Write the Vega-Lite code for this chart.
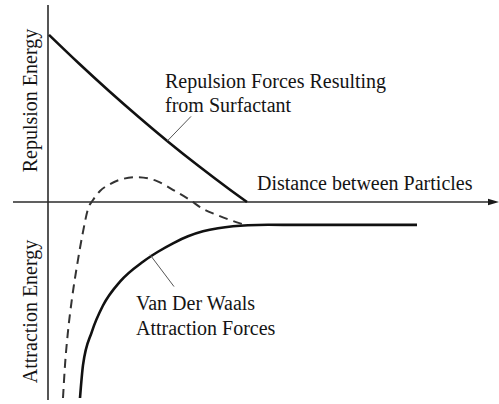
{
  "$schema": "https://vega.github.io/schema/vega-lite/v6.json",
  "width": 499,
  "height": 404,
  "autosize": {"type": "fit", "contains": "padding"},
  "padding": 0,
  "background": "white",
  "config": {"view": {"stroke": null}},
  "datasets": {
    "axes": [
      {"name": "energy", "d": 0, "e": 198, "d2": 0, "e2": -199},
      {"name": "distance", "d": -35, "e": 0, "d2": 442, "e2": 0}
    ],
    "arrow": [{"d": 445.5, "e": 0}],
    "curves": [
      {"series": "repulsion", "d": 1, "e": 168},
      {"series": "repulsion", "d": 31, "e": 139.2},
      {"series": "repulsion", "d": 61, "e": 111.6},
      {"series": "repulsion", "d": 91, "e": 85.2},
      {"series": "repulsion", "d": 121, "e": 59.9},
      {"series": "repulsion", "d": 151, "e": 35.9},
      {"series": "repulsion", "d": 181, "e": 13.1},
      {"series": "repulsion", "d": 199, "e": 0},

      {"series": "vanderwaals", "d": 32, "e": -197},
      {"series": "vanderwaals", "d": 35, "e": -164},
      {"series": "vanderwaals", "d": 44, "e": -130},
      {"series": "vanderwaals", "d": 55, "e": -104},
      {"series": "vanderwaals", "d": 72, "e": -80},
      {"series": "vanderwaals", "d": 95, "e": -60},
      {"series": "vanderwaals", "d": 110, "e": -50},
      {"series": "vanderwaals", "d": 125, "e": -41.5},
      {"series": "vanderwaals", "d": 140, "e": -34.5},
      {"series": "vanderwaals", "d": 155, "e": -29.5},
      {"series": "vanderwaals", "d": 170, "e": -26.3},
      {"series": "vanderwaals", "d": 185, "e": -24.3},
      {"series": "vanderwaals", "d": 200, "e": -23.3},
      {"series": "vanderwaals", "d": 220, "e": -22.9},
      {"series": "vanderwaals", "d": 250, "e": -23},
      {"series": "vanderwaals", "d": 369, "e": -23},

      {"series": "total", "d": 15, "e": -197},
      {"series": "total", "d": 17, "e": -164},
      {"series": "total", "d": 20, "e": -130},
      {"series": "total", "d": 24, "e": -97},
      {"series": "total", "d": 29, "e": -64},
      {"series": "total", "d": 35, "e": -30},
      {"series": "total", "d": 40, "e": -7},
      {"series": "total", "d": 45, "e": 2},
      {"series": "total", "d": 52, "e": 11},
      {"series": "total", "d": 62, "e": 18},
      {"series": "total", "d": 74, "e": 23},
      {"series": "total", "d": 89, "e": 25},
      {"series": "total", "d": 109, "e": 21},
      {"series": "total", "d": 127, "e": 11},
      {"series": "total", "d": 142, "e": 2},
      {"series": "total", "d": 155, "e": -7},
      {"series": "total", "d": 169, "e": -13},
      {"series": "total", "d": 179, "e": -17},
      {"series": "total", "d": 194, "e": -22}
    ],
    "leaders": [
      {"curve": "repulsion", "d": 119, "e": 61, "d2": 143, "e2": 86},
      {"curve": "vanderwaals", "d": 102, "e": -53, "d2": 126, "e2": -85}
    ],
    "notes": [
      {"d": 117, "e": 115, "label": "Repulsion Forces Resulting"},
      {"d": 117, "e": 90, "label": "from Surfactant"},
      {"d": 209, "e": 12, "label": "Distance between Particles"},
      {"d": 88, "e": -109, "label": "Van Der Waals"},
      {"d": 88, "e": -134, "label": "Attraction Forces"}
    ],
    "titles": [
      {"d": -11, "e": 102, "label": "Repulsion Energy"},
      {"d": -11, "e": -110, "label": "Attraction Energy"}
    ]
  },
  "layer": [
    {
      "data": {"name": "axes"},
      "mark": {"type": "rule", "color": "#2b2b2b", "strokeWidth": 1.6},
      "encoding": {
        "x": {"field": "d", "type": "quantitative", "scale": {"domain": [-48, 451], "nice": false, "zero": false}, "axis": null},
        "x2": {"field": "d2"},
        "y": {"field": "e", "type": "quantitative", "scale": {"domain": [-201, 203], "nice": false, "zero": false}, "axis": null},
        "y2": {"field": "e2"}
      }
    },
    {
      "data": {"name": "arrow"},
      "mark": {"type": "point", "shape": "M -1 -0.6 L 1 0 L -1 0.6 Z", "size": 121, "filled": true, "color": "#1a1a1a", "opacity": 1},
      "encoding": {
        "x": {"field": "d", "type": "quantitative", "scale": {"domain": [-48, 451], "nice": false, "zero": false}, "axis": null},
        "y": {"field": "e", "type": "quantitative", "scale": {"domain": [-201, 203], "nice": false, "zero": false}, "axis": null}
      }
    },
    {
      "data": {"name": "curves"},
      "transform": [{"filter": "datum.series === 'total'"}],
      "mark": {"type": "line", "interpolate": "monotone", "color": "#333333", "strokeWidth": 2, "strokeDash": [9, 6]},
      "encoding": {
        "x": {"field": "d", "type": "quantitative", "scale": {"domain": [-48, 451], "nice": false, "zero": false}, "axis": null},
        "y": {"field": "e", "type": "quantitative", "scale": {"domain": [-201, 203], "nice": false, "zero": false}, "axis": null}
      }
    },
    {
      "data": {"name": "curves"},
      "transform": [{"filter": "datum.series !== 'total'"}],
      "mark": {"type": "line", "interpolate": "monotone", "color": "#111111", "strokeWidth": 2.6},
      "encoding": {
        "x": {"field": "d", "type": "quantitative", "scale": {"domain": [-48, 451], "nice": false, "zero": false}, "axis": null},
        "y": {"field": "e", "type": "quantitative", "scale": {"domain": [-201, 203], "nice": false, "zero": false}, "axis": null},
        "detail": {"field": "series"}
      }
    },
    {
      "data": {"name": "leaders"},
      "mark": {"type": "rule", "color": "#555555", "strokeWidth": 1},
      "encoding": {
        "x": {"field": "d", "type": "quantitative", "scale": {"domain": [-48, 451], "nice": false, "zero": false}, "axis": null},
        "x2": {"field": "d2"},
        "y": {"field": "e", "type": "quantitative", "scale": {"domain": [-201, 203], "nice": false, "zero": false}, "axis": null},
        "y2": {"field": "e2"}
      }
    },
    {
      "data": {"name": "notes"},
      "mark": {"type": "text", "font": "Liberation Serif", "fontSize": 20, "align": "left", "baseline": "alphabetic", "color": "#141414"},
      "encoding": {
        "x": {"field": "d", "type": "quantitative", "scale": {"domain": [-48, 451], "nice": false, "zero": false}, "axis": null},
        "y": {"field": "e", "type": "quantitative", "scale": {"domain": [-201, 203], "nice": false, "zero": false}, "axis": null},
        "text": {"field": "label"}
      }
    },
    {
      "data": {"name": "titles"},
      "mark": {"type": "text", "font": "Liberation Serif", "fontSize": 20, "align": "center", "baseline": "alphabetic", "angle": 270, "color": "#141414"},
      "encoding": {
        "x": {"field": "d", "type": "quantitative", "scale": {"domain": [-48, 451], "nice": false, "zero": false}, "axis": null},
        "y": {"field": "e", "type": "quantitative", "scale": {"domain": [-201, 203], "nice": false, "zero": false}, "axis": null},
        "text": {"field": "label"}
      }
    }
  ]
}
